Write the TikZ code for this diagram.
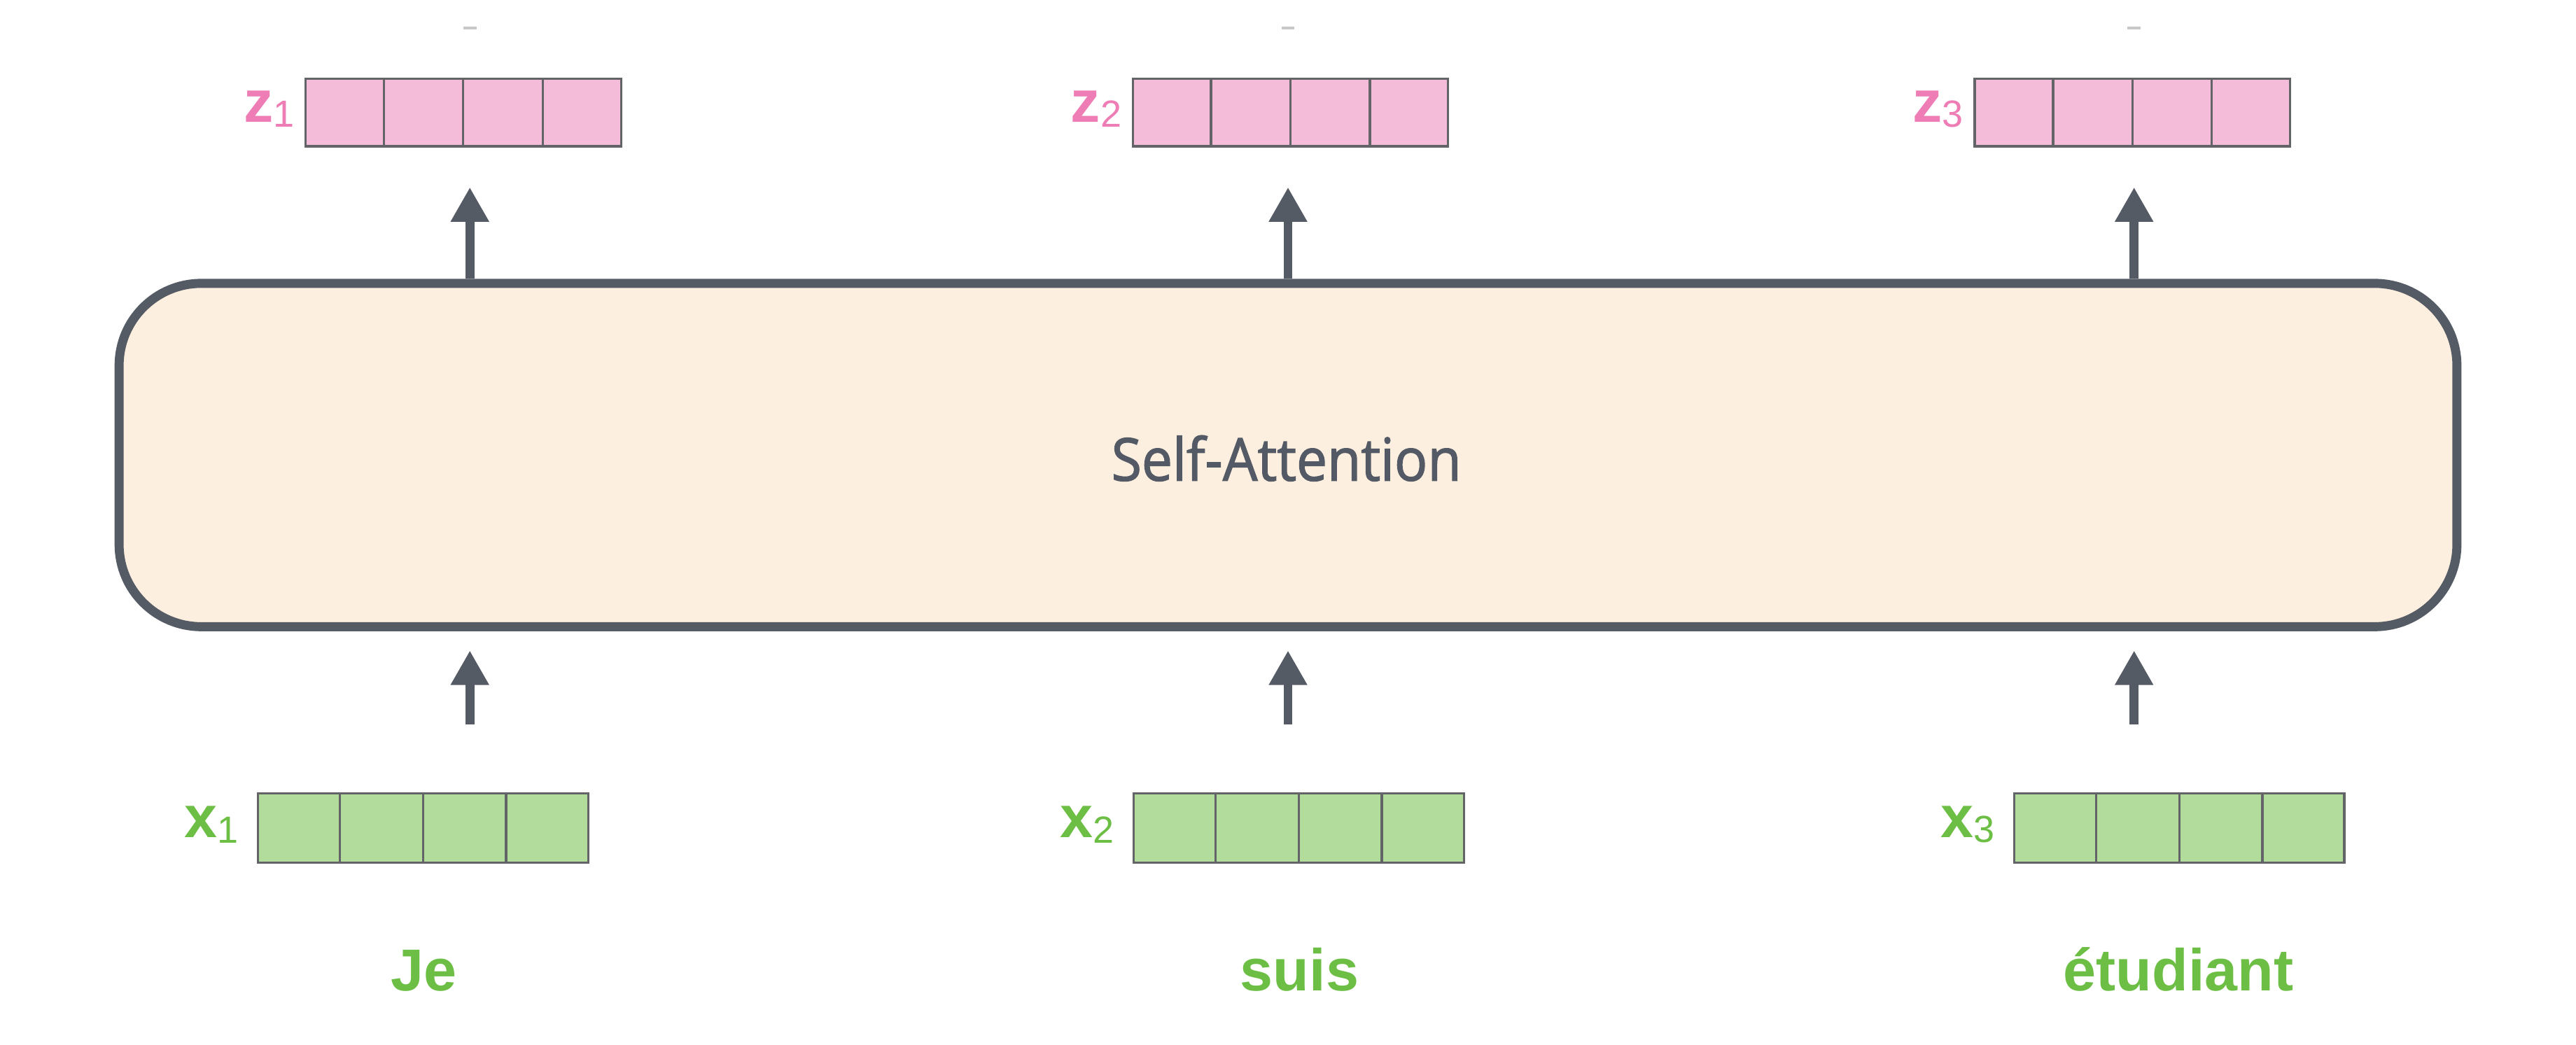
\documentclass[tikz,border=0pt]{standalone}
\usepackage{fontspec}
\usetikzlibrary{arrows.meta,calc}
\newfontfamily\lblfont{Liberation Sans}
\newfontfamily\safont[FakeBold=1.6,FakeStretch=0.93]{Open Sans}
\definecolor{boxfill}{HTML}{FDEFDF}
\definecolor{boxline}{HTML}{555B64}
\definecolor{pinktext}{HTML}{EE7DB5}
\definecolor{pinkfill}{HTML}{F4BCD9}
\definecolor{greentext}{HTML}{6CBF44}
\definecolor{greenfill}{HTML}{B1DC9C}
\definecolor{cellline}{HTML}{626468}
\definecolor{satext}{HTML}{545A65}
\definecolor{tickgray}{HTML}{C8C8C8}
\tikzset{
  arr/.style={line width=5.5pt, draw=boxline, -{Triangle[length=21pt,width=22pt]}},
  zvec/.style={draw=cellline, line width=1.4pt, fill=pinkfill, minimum width=192pt, minimum height=41pt, inner sep=0pt},
  xvec/.style={draw=cellline, line width=1.4pt, fill=greenfill, minimum width=201pt, minimum height=42pt, inner sep=0pt},
  divider/.style={draw=cellline, line width=1.4pt},
  zlbl/.style={text=pinktext, inner sep=0pt, anchor=east},
  xlbl/.style={text=greentext, inner sep=0pt, anchor=east},
  word/.style={text=greentext, inner sep=0pt, anchor=base, font=\lblfont\bfseries\fontsize{36pt}{36pt}\selectfont},
  tickmark/.style={draw=tickgray, line width=1.5pt}
}
\newcommand{\veclabel}[2]{{\lblfont\bfseries\fontsize{36pt}{36pt}\selectfont #1}{\lblfont\fontsize{23pt}{23pt}\selectfont\raisebox{-3pt}{#2}}}
\begin{document}
\begin{tikzpicture}[x=1pt,y=-1pt]
\useasboundingbox (0,0) rectangle (1568,636);
% main block
\node[draw=boxline, line width=5.5pt, fill=boxfill, rounded corners=50pt,
      minimum width=1423pt, minimum height=209pt, inner sep=0pt] (sa) at (784,277) {};
\node[text=satext, font=\safont\fontsize{36pt}{36pt}\selectfont] (satxt) at (783,279) {Self-Attention};
% output vectors
\node[zvec] (z1) at (282,68.5) {};
\node[zvec] (z2) at (785.5,68.5) {};
\node[zvec] (z3) at (1298,68.5) {};
% input vectors
\node[xvec] (x1) at (257.5,504) {};
\node[xvec] (x2) at (790.5,504) {};
\node[xvec] (x3) at (1326.5,504) {};
\foreach \v in {z1,z2,z3,x1,x2,x3}{
  \foreach \i in {1,2,3}{
    \draw[divider] ($(\v.north west)!\i/4!(\v.north east)$) -- ($(\v.south west)!\i/4!(\v.south east)$);
  }
}
% labels
\node[zlbl] (lz1) at ([xshift=-6pt,yshift=2pt]z1.west) {\veclabel{z}{1}};
\node[zlbl] (lz2) at ([xshift=-6pt,yshift=2pt]z2.west) {\veclabel{z}{2}};
\node[zlbl] (lz3) at ([xshift=-6pt,yshift=2pt]z3.west) {\veclabel{z}{3}};
\node[xlbl] (lx1) at ([xshift=-11pt,yshift=2pt]x1.west) {\veclabel{x}{1}};
\node[xlbl] (lx2) at ([xshift=-11pt,yshift=2pt]x2.west) {\veclabel{x}{2}};
\node[xlbl] (lx3) at ([xshift=-11pt,yshift=2pt]x3.west) {\veclabel{x}{3}};
% words
\node[word] (w1) at (258,603) {Je};
\node[word] (w2) at (791,603) {suis};
\node[word] (w3) at (1326,603) {étudiant};
% arrow coordinates
\coordinate (t1) at (286,114);
\coordinate (t2) at (784,114);
\coordinate (t3) at (1299,114);
\coordinate (b1) at (286,441);
\coordinate (b2) at (784,441);
\coordinate (b3) at (1299,441);
\coordinate (h1) at (286,396);
\coordinate (h2) at (784,396);
\coordinate (h3) at (1299,396);
\foreach \i in {1,2,3}{
  \draw[arr] (sa.north -| t\i) -- (t\i);
  \draw[arr] (b\i) -- (h\i);
}
% faint marks at the top edge
\coordinate (m1) at (286,17);
\coordinate (m2) at (784,17);
\coordinate (m3) at (1299,17);
\foreach \i in {1,2,3}{
  \draw[tickmark] ([xshift=-4pt]m\i) -- ([xshift=4pt]m\i);
}
\end{tikzpicture}
\end{document}
